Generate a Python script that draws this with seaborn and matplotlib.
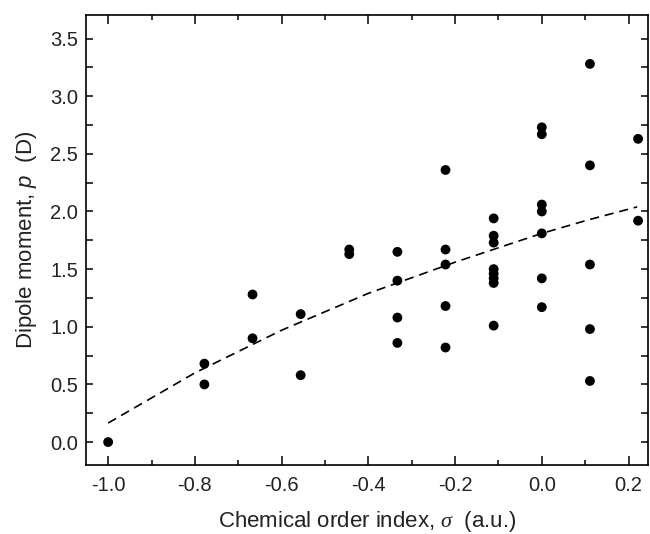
import numpy as np
import pandas as pd
import matplotlib
matplotlib.use("Agg")
import matplotlib.pyplot as plt
import seaborn as sns
from matplotlib.ticker import MultipleLocator

# chemical order index (steps of 1/9) and dipole moment
sigma = [-1.0,
         -0.778, -0.778,
         -0.667, -0.667,
         -0.556, -0.556,
         -0.444, -0.444,
         -0.333, -0.333, -0.333, -0.333,
         -0.222, -0.222, -0.222, -0.222, -0.222,
         -0.111, -0.111, -0.111, -0.111, -0.111, -0.111, -0.111, -0.111,
         0.0, 0.0, 0.0, 0.0, 0.0, 0.0, 0.0,
         0.111, 0.111, 0.111, 0.111, 0.111,
         0.222, 0.222]
dipole = [0.0,
          0.68, 0.50,
          1.28, 0.90,
          1.11, 0.58,
          1.67, 1.63,
          1.65, 1.40, 1.08, 0.86,
          2.36, 1.67, 1.54, 1.18, 0.82,
          1.94, 1.79, 1.73, 1.50, 1.46, 1.42, 1.38, 1.01,
          2.73, 2.67, 2.06, 2.00, 1.81, 1.42, 1.17,
          3.28, 2.40, 1.54, 0.98, 0.53,
          2.63, 1.92]

# dashed trend curve
trend_x = [-1.0, -0.8, -0.6, -0.4, -0.2, 0.0, 0.11, 0.22]
trend_y = [0.165, 0.60, 0.97, 1.29, 1.56, 1.81, 1.93, 2.04]

df = pd.DataFrame({"sigma": sigma, "p": dipole})
trend = pd.DataFrame({"sigma": trend_x, "p": trend_y})

sns.set_style("ticks")
plt.rcParams["font.family"] = ["Liberation Sans", "DejaVu Sans"]
plt.rcParams["mathtext.fontset"] = "custom"
plt.rcParams["mathtext.it"] = "Liberation Sans:italic"
plt.rcParams["mathtext.rm"] = "Liberation Serif:italic"

fig = plt.figure(figsize=(6.5, 5.34), dpi=100)
ax = fig.add_axes([0.133, 0.129, 0.864, 0.842])

sns.lineplot(data=trend, x="sigma", y="p", ax=ax, color="black",
             linestyle=(0, (5.5, 3.5)), linewidth=1.2)
sns.scatterplot(data=df, x="sigma", y="p", ax=ax, color="black",
                s=50, edgecolor="none", zorder=3)

ax.set_xlim(-1.05, 0.245)
ax.set_ylim(-0.2, 3.7)
ax.xaxis.set_major_locator(MultipleLocator(0.2))
ax.xaxis.set_minor_locator(MultipleLocator(0.1))
ax.yaxis.set_major_locator(MultipleLocator(0.5))
ax.yaxis.set_minor_locator(MultipleLocator(0.25))
ax.xaxis.set_major_formatter(plt.FuncFormatter(lambda v, _: f"{v:.1f}"))
ax.yaxis.set_major_formatter(plt.FuncFormatter(lambda v, _: f"{v:.1f}"))

ax.tick_params(which="both", direction="in", top=True, right=True,
               width=1.1, labelsize=14.5, color="black", labelcolor="#222222")
ax.tick_params(axis="x", which="major", length=6.5, pad=8)
ax.tick_params(axis="x", which="minor", length=3.5)
ax.tick_params(axis="y", which="both", length=5, pad=6)
for sp in ax.spines.values():
    sp.set_linewidth(1.2)
    sp.set_color("black")

ax.set_xlabel("Chemical order index, $\\mathrm{\\sigma}$  (a.u.)", fontsize=16,
              labelpad=10, color="#222222")
ax.set_ylabel("Dipole moment, $p$  (D)", fontsize=16, labelpad=8,
              color="#222222")

fig.savefig("out.png", dpi=100)
